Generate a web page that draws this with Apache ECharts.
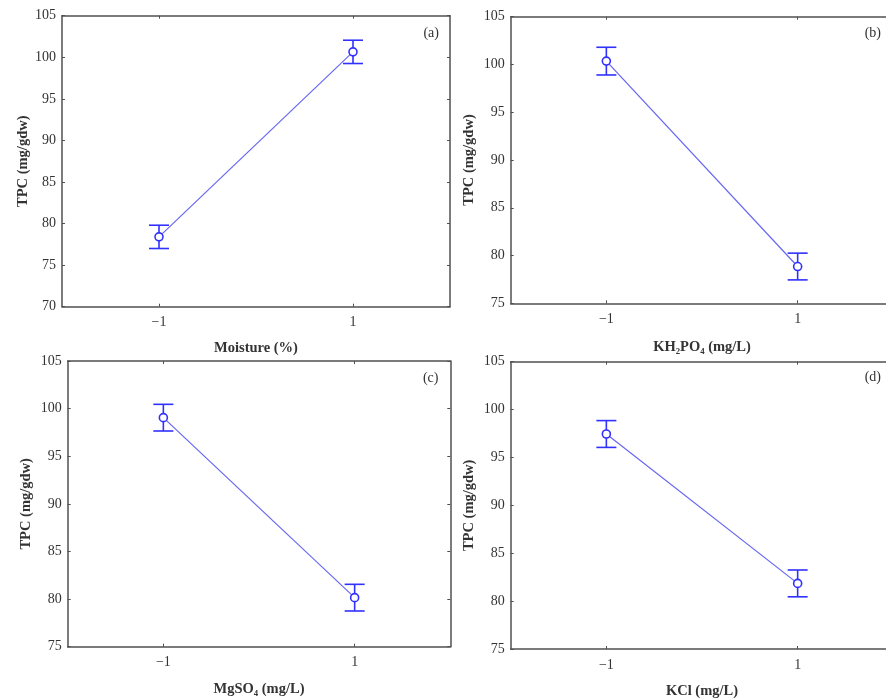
<!DOCTYPE html>
<html>
<head>
<meta charset="utf-8">
<script src="https://cdn.jsdelivr.net/npm/echarts@6/dist/echarts.min.js"></script>
<style>html,body{margin:0;padding:0;background:#fff;}#chart{width:886px;height:700px;}</style>
</head>
<body>
<div id="chart"></div>
<script>
// ---- data ----
const levels = [-1, 1];
const xTickValues = [-1, 1];
const panelTags = ['(a)', '(b)', '(c)', '(d)'];
const xTitles = ['Moisture (%)', 'KH\u2082PO\u2084 (mg/L)', 'MgSO\u2084 (mg/L)', 'KCl (mg/L)'];
const yTitle = 'TPC (mg/gdw)';
const meanA = [78.4, 100.65];
const errA = [1.4, 1.4];
const meanB = [100.35, 78.85];
const errB = [1.45, 1.4];
const meanC = [99.05, 80.15];
const errC = [1.4, 1.4];
const meanD = [97.45, 81.85];
const errD = [1.4, 1.4];
const yMins = [70, 75, 75, 75];
const yMaxs = [105, 105, 105, 105];
const yStep = 5;

const means = [meanA, meanB, meanC, meanD];
const errs = [errA, errB, errC, errD];

// ---- layout / style ----
const grids = [
  {left: 62, top: 15.7, width: 388, height: 291},
  {left: 510.7, top: 16.7, width: 382.6, height: 286.6},
  {left: 67.7, top: 361, width: 382.6, height: 285.7},
  {left: 510.7, top: 361.7, width: 382.6, height: 287.3}
];
const yNameGaps = [31, 34, 34, 34];
const xNameGaps = [34, 36, 35, 35];
const tagPos = [[439, 33], [881, 33.3], [438.5, 378.3], [881, 377.7]];

const frameColor = '#505050';
const textColor = '#333';
const barColor = '#3030ff';
const lineColor = '#6666f2';
const fontFam = '"Liberation Serif", "DejaVu Serif", serif';

const xAxes = [], yAxes = [], series = [], graphics = [];
const fmt = v => (v < 0 ? '\u2212' + Math.abs(v) : String(v));

grids.forEach((g, i) => {
  const lineStyle = {color: frameColor, width: 1.5};
  xAxes.push({
    gridIndex: i, type: 'value', min: -2, max: 2, interval: 1, position: 'bottom',
    axisLine: {show: true, onZero: false, lineStyle},
    axisTick: {show: true, inside: true, length: 3, customValues: xTickValues, lineStyle: {color: frameColor, width: 1}},
    axisLabel: {show: true, customValues: xTickValues, formatter: fmt, margin: 9,
      color: textColor, fontFamily: fontFam, fontSize: 14},
    splitLine: {show: false},
    name: xTitles[i], nameLocation: 'middle', nameGap: xNameGaps[i],
    nameTextStyle: {color: textColor, fontFamily: fontFam, fontWeight: 'bold', fontSize: 14.5}
  });
  xAxes.push({
    gridIndex: i, type: 'value', min: -2, max: 2, interval: 1, position: 'top',
    axisLine: {show: true, onZero: false, lineStyle},
    axisTick: {show: true, inside: true, length: 3, customValues: xTickValues, lineStyle: {color: frameColor, width: 1}},
    axisLabel: {show: false}, splitLine: {show: false}
  });
  yAxes.push({
    gridIndex: i, type: 'value', min: yMins[i], max: yMaxs[i], interval: yStep, position: 'left',
    axisLine: {show: true, onZero: false, lineStyle},
    axisTick: {show: true, inside: true, length: 3, lineStyle: {color: frameColor, width: 1}},
    axisLabel: {show: true, margin: 6, color: textColor, fontFamily: fontFam, fontSize: 14},
    splitLine: {show: false},
    name: yTitle, nameLocation: 'middle', nameGap: yNameGaps[i], nameRotate: 90,
    nameTextStyle: {color: textColor, fontFamily: fontFam, fontWeight: 'bold', fontSize: 14.5}
  });
  yAxes.push({
    gridIndex: i, type: 'value', min: yMins[i], max: yMaxs[i], interval: yStep, position: 'right',
    axisLine: {show: true, onZero: false, lineStyle},
    axisTick: {show: true, inside: true, length: 3, lineStyle: {color: frameColor, width: 1}},
    axisLabel: {show: false}, splitLine: {show: false}
  });

  const m = means[i], e = errs[i];
  series.push({
    type: 'custom', xAxisIndex: 2 * i, yAxisIndex: 2 * i, z: 2,
    encode: {x: 0, y: [1, 2]},
    data: levels.map((x, k) => [x, m[k] - e[k], m[k] + e[k]]),
    renderItem: function (params, api) {
      const x = api.value(0);
      const pLo = api.coord([x, api.value(1)]);
      const pHi = api.coord([x, api.value(2)]);
      const hw = 10;
      const st = {stroke: barColor, lineWidth: 1.6};
      return {type: 'group', children: [
        {type: 'line', shape: {x1: pHi[0], y1: pHi[1], x2: pLo[0], y2: pLo[1]}, style: st},
        {type: 'line', shape: {x1: pHi[0] - hw, y1: pHi[1], x2: pHi[0] + hw, y2: pHi[1]}, style: st},
        {type: 'line', shape: {x1: pLo[0] - hw, y1: pLo[1], x2: pLo[0] + hw, y2: pLo[1]}, style: st}
      ]};
    }
  });
  series.push({
    type: 'line', xAxisIndex: 2 * i, yAxisIndex: 2 * i, z: 3,
    data: levels.map((x, k) => [x, m[k]]),
    symbol: 'circle', symbolSize: 8,
    itemStyle: {color: '#fff', borderColor: barColor, borderWidth: 1.6},
    lineStyle: {color: lineColor, width: 1.2}
  });

  graphics.push({
    type: 'text', x: tagPos[i][0], y: tagPos[i][1],
    style: {text: panelTags[i], textAlign: 'right', textVerticalAlign: 'middle',
      font: '14px ' + fontFam, fill: textColor}
  });
});

const chart = echarts.init(document.getElementById('chart'), null, {renderer: 'canvas'});
chart.setOption({
  animation: false,
  backgroundColor: '#fff',
  grid: grids.map(g => Object.assign({containLabel: false, outerBoundsMode: 'none'}, g)),
  xAxis: xAxes,
  yAxis: yAxes,
  series: series,
  graphic: graphics
});
</script>
</body>
</html>
